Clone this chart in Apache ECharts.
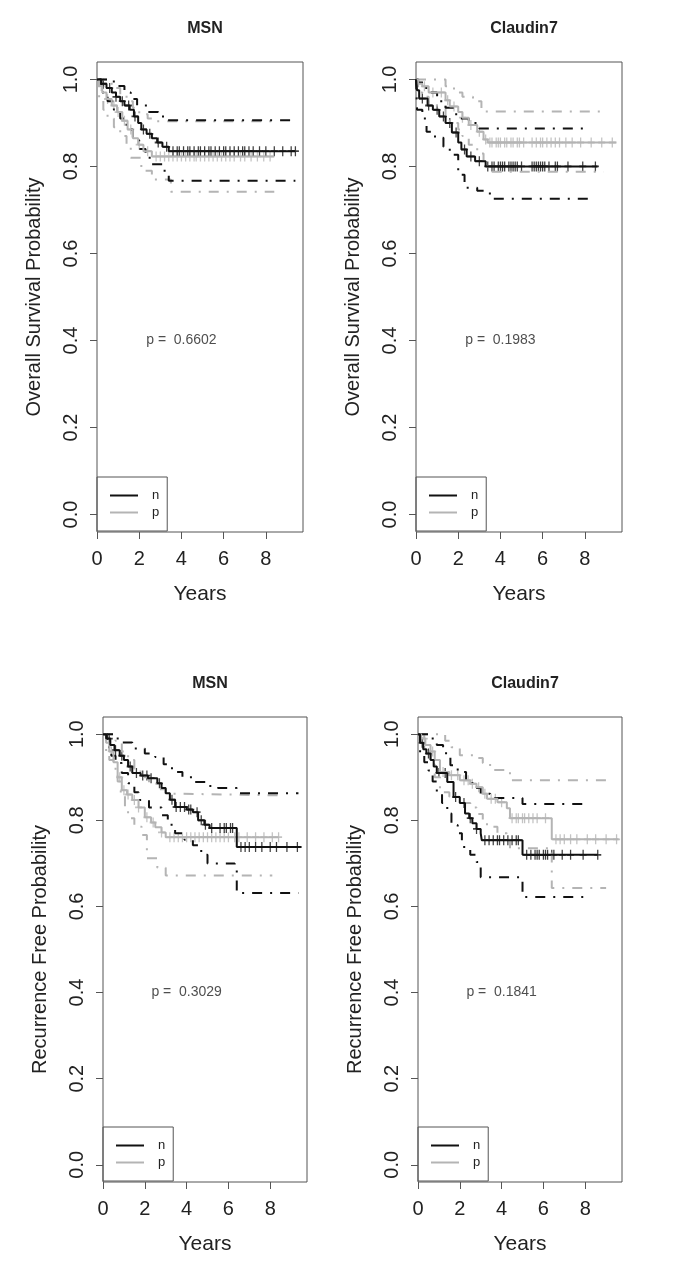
<!DOCTYPE html>
<html>
<head>
<meta charset="utf-8">
<script src="https://cdn.jsdelivr.net/npm/echarts@6/dist/echarts.min.js"></script>
<style>
  html, body { margin: 0; padding: 0; background: #fff; }
  #main { width: 685px; height: 1276px; }
</style>
</head>
<body>
<div id="main"></div>
<script>
// ---- data: Kaplan-Meier steps [years, probability] ----
const panelTitles = ['MSN', 'Claudin7', 'MSN', 'Claudin7'];
const yNames = ['Overall Survival Probability', 'Overall Survival Probability',
                'Recurrence Free Probability', 'Recurrence Free Probability'];
const pValues = ['0.6602', '0.1983', '0.3029', '0.1841'];
const groupNames = ['n', 'p'];
const xTicks = [0, 2, 4, 6, 8];
const yTicks = [0, 0.2, 0.4, 0.6, 0.8, 1.0];
const yTickLabels = ['0.0', '0.2', '0.4', '0.6', '0.8', '1.0'];

// overall survival, MSN
const osMsnN = [[0,1],[0.2,0.99],[0.45,0.98],[0.7,0.97],[0.9,0.96],[1.1,0.95],[1.3,0.94],[1.55,0.93],[1.75,0.915],[1.95,0.9],[2.1,0.885],[2.35,0.875],[2.6,0.865],[2.85,0.855],[3.1,0.845],[3.4,0.835],[9.4,0.835]];
const osMsnP = [[0,1],[0.1,0.985],[0.25,0.97],[0.45,0.955],[0.7,0.94],[0.95,0.925],[1.2,0.905],[1.45,0.885],[1.7,0.865],[1.95,0.85],[2.2,0.835],[2.6,0.823],[8.4,0.823]];
const osMsnNUp = [[0,1],[0.3,1],[0.5,0.995],[0.9,0.985],[1.3,0.97],[1.6,0.955],[1.9,0.94],[2.4,0.925],[2.9,0.915],[3.3,0.906],[9.4,0.906]];
const osMsnNLo = [[0,1],[0.2,0.97],[0.5,0.95],[0.8,0.93],[1.1,0.91],[1.4,0.885],[1.7,0.86],[2.0,0.84],[2.3,0.82],[2.6,0.805],[3.1,0.79],[3.4,0.767],[9.4,0.767]];
const osMsnPUp = [[0,1],[0.25,1],[0.5,0.99],[0.8,0.98],[1.1,0.965],[1.4,0.95],[1.7,0.935],[2.0,0.92],[2.4,0.91],[2.8,0.904],[8.4,0.904]];
const osMsnPLo = [[0,1],[0.1,0.955],[0.3,0.93],[0.5,0.91],[0.8,0.89],[1.1,0.87],[1.4,0.845],[1.6,0.82],[2.1,0.79],[2.6,0.77],[3.5,0.742],[8.4,0.742]];
const osMsnNCens = [0.3,0.6,0.9,1.2,1.5,1.8,2.2,2.5,2.9,3.3,3.6,3.8,3.9,4.1,4.3,4.4,4.6,4.8,4.9,5.1,5.3,5.4,5.6,5.8,6.0,6.1,6.3,6.5,6.7,6.9,7.0,7.2,7.4,7.7,8.0,8.4,8.8,9.2,9.4];
const osMsnPCens = [0.2,0.5,0.8,1.0,1.3,1.6,2.0,2.4,2.8,3.0,3.2,3.4,3.6,3.8,4.0,4.2,4.4,4.6,4.7,4.9,5.1,5.3,5.5,5.7,5.9,6.1,6.3,6.5,6.8,7.0,7.3,7.6,7.9,8.2];

// overall survival, Claudin7
const osClaN = [[0,1],[0.05,0.975],[0.15,0.956],[0.55,0.94],[0.8,0.93],[1.1,0.915],[1.4,0.9],[1.7,0.878],[2.0,0.855],[2.15,0.839],[2.4,0.823],[2.8,0.812],[3.3,0.8],[8.6,0.8]];
const osClaP = [[0,1],[0.1,0.99],[0.3,0.984],[0.6,0.97],[1.4,0.952],[1.6,0.938],[2.0,0.925],[2.2,0.912],[2.5,0.895],[2.9,0.88],[3.2,0.862],[3.4,0.855],[9.5,0.855]];
const osClaNUp = [[0,1],[0.1,0.993],[0.35,0.98],[0.6,0.97],[1.0,0.95],[1.4,0.935],[1.8,0.92],[2.1,0.91],[2.5,0.9],[3.0,0.887],[8.1,0.887]];
const osClaNLo = [[0,1],[0.05,0.93],[0.3,0.91],[0.5,0.88],[0.9,0.866],[1.3,0.845],[1.6,0.827],[2.0,0.781],[2.3,0.751],[2.9,0.744],[3.5,0.726],[8.5,0.726]];
const osClaPUp = [[0,1],[1.2,1],[1.4,0.984],[1.8,0.97],[2.2,0.96],[2.7,0.95],[3.1,0.931],[3.3,0.926],[8.9,0.926]];
const osClaPLo = [[0,1],[0.1,0.97],[0.3,0.96],[0.6,0.94],[1.4,0.915],[1.6,0.9],[2.0,0.885],[2.2,0.87],[2.5,0.85],[2.9,0.83],[3.2,0.8],[3.4,0.788],[8.9,0.788]];
const osClaNCens = [0.3,0.6,1.0,1.3,1.6,1.9,2.3,2.6,3.0,3.4,3.6,3.7,3.9,4.0,4.1,4.2,4.4,4.5,4.6,4.7,4.8,5.0,5.5,5.6,5.7,5.8,5.9,6.0,6.1,6.3,6.6,6.7,7.2,7.9,8.5];
const osClaPCens = [0.4,0.8,1.2,1.5,1.8,2.2,2.6,3.0,3.3,3.5,3.6,3.8,3.9,4.0,4.2,4.3,4.5,4.6,4.8,4.9,5.1,5.5,5.7,5.9,6.0,6.2,6.4,6.6,6.8,7.1,7.4,7.8,8.3,8.8,9.3];

// recurrence free, MSN
const rfsMsnN = [[0,1],[0.15,0.99],[0.35,0.975],[0.55,0.963],[0.8,0.95],[1.0,0.94],[1.2,0.925],[1.4,0.91],[1.8,0.904],[2.15,0.898],[2.6,0.886],[2.8,0.875],[3.0,0.863],[3.2,0.848],[3.45,0.831],[4.0,0.825],[4.3,0.819],[4.55,0.8],[4.85,0.79],[5.1,0.782],[6.4,0.738],[9.5,0.738]];
const rfsMsnP = [[0,1],[0.15,0.98],[0.3,0.96],[0.5,0.935],[0.7,0.9],[0.9,0.87],[1.15,0.86],[1.4,0.847],[1.7,0.83],[2.0,0.807],[2.3,0.795],[2.5,0.784],[2.8,0.772],[3.0,0.761],[8.4,0.761]];
const rfsMsnNUp = [[0,1],[0.3,1],[0.5,0.99],[0.9,0.981],[1.4,0.967],[2.0,0.955],[2.5,0.947],[2.9,0.93],[3.3,0.912],[3.8,0.9],[4.4,0.889],[5.0,0.88],[5.5,0.875],[6.4,0.863],[9.35,0.863]];
const rfsMsnNLo = [[0,1],[0.2,0.97],[0.4,0.95],[0.6,0.933],[0.9,0.91],[1.2,0.886],[1.5,0.865],[1.7,0.847],[2.2,0.83],[2.8,0.812],[3.1,0.79],[3.45,0.77],[3.9,0.755],[4.3,0.742],[4.7,0.72],[5.0,0.7],[6.3,0.69],[6.4,0.631],[9.35,0.631]];
const rfsMsnPUp = [[0,1],[0.4,1],[0.6,0.985],[0.9,0.96],[1.2,0.94],[1.5,0.92],[1.8,0.9],[2.2,0.885],[2.6,0.872],[3.0,0.862],[3.4,0.858],[8.4,0.858]];
const rfsMsnPLo = [[0,1],[0.15,0.96],[0.3,0.94],[0.5,0.92],[0.7,0.89],[0.85,0.86],[1.05,0.83],[1.2,0.805],[1.5,0.785],[1.85,0.766],[2.1,0.712],[2.6,0.69],[3.0,0.672],[8.1,0.672]];
const rfsMsnNCens = [0.3,0.6,0.9,1.3,1.6,1.9,2.1,2.3,2.7,3.3,3.5,3.7,3.9,4.1,4.2,4.5,4.7,4.9,5.2,5.6,5.8,5.9,6.1,6.2,6.6,6.8,7.0,7.3,7.6,8.0,8.3,8.8,9.3];
const rfsMsnPCens = [0.4,0.8,1.0,1.2,1.5,1.7,2.1,2.4,2.8,3.2,3.4,3.6,3.8,4.0,4.2,4.4,4.6,4.8,5.0,5.2,5.4,5.6,5.8,6.0,6.3,6.5,6.9,7.3,7.7,8.1,8.4];

// recurrence free, Claudin7
const rfsClaN = [[0,1],[0.1,0.98],[0.25,0.965],[0.4,0.955],[0.6,0.94],[0.75,0.925],[0.9,0.91],[1.4,0.889],[1.7,0.854],[2.0,0.84],[2.25,0.816],[2.45,0.805],[2.6,0.793],[2.8,0.78],[3.0,0.77],[3.05,0.754],[5.0,0.72],[8.6,0.72]];
const rfsClaP = [[0,1],[0.15,0.99],[0.35,0.975],[0.6,0.96],[0.8,0.94],[1.05,0.912],[1.5,0.905],[2.0,0.893],[2.5,0.885],[2.8,0.877],[3.1,0.862],[3.3,0.85],[3.8,0.842],[4.25,0.828],[4.4,0.805],[6.4,0.756],[9.6,0.756]];
const rfsClaNUp = [[0,1],[0.4,1],[0.6,0.99],[0.9,0.975],[1.2,0.956],[1.55,0.928],[1.9,0.912],[2.3,0.89],[2.6,0.875],[3.0,0.862],[3.45,0.852],[5.0,0.838],[8.0,0.838]];
const rfsClaNLo = [[0,1],[0.1,0.955],[0.3,0.935],[0.5,0.916],[0.7,0.89],[0.9,0.866],[1.15,0.84],[1.4,0.816],[1.6,0.789],[1.9,0.77],[2.1,0.738],[2.5,0.72],[2.8,0.703],[3.0,0.668],[5.0,0.622],[8.0,0.622]];
const rfsClaPUp = [[0,1],[1.0,1],[1.3,0.985],[1.6,0.97],[2.0,0.951],[2.8,0.945],[3.1,0.933],[3.45,0.917],[4.4,0.893],[9.2,0.893]];
const rfsClaPLo = [[0,1],[0.3,0.96],[0.6,0.93],[0.8,0.9],[1.05,0.865],[1.5,0.855],[2.0,0.84],[2.5,0.83],[2.8,0.815],[3.1,0.8],[3.3,0.785],[3.8,0.77],[4.25,0.755],[4.4,0.735],[6.4,0.643],[9.0,0.643]];
const rfsClaNCens = [0.2,0.5,1.0,1.3,1.8,2.2,2.5,2.8,3.2,3.4,3.6,3.8,3.9,4.1,4.3,4.5,4.7,4.8,5.2,5.4,5.6,5.7,5.8,6.0,6.1,6.2,6.4,6.5,6.9,7.3,7.9,8.6];
const rfsClaPCens = [0.3,0.7,1.2,1.6,1.9,2.2,2.4,2.6,2.9,3.2,3.5,3.7,4.0,4.5,4.7,4.8,5.0,5.1,5.3,5.5,5.7,6.1,6.6,6.8,7.0,7.3,7.6,8.1,8.5,9.0,9.5];

const panels = [
    { n: osMsnN, p: osMsnP, nUp: osMsnNUp, nLo: osMsnNLo, pUp: osMsnPUp, pLo: osMsnPLo, nCens: osMsnNCens, pCens: osMsnPCens },
    { n: osClaN, p: osClaP, nUp: osClaNUp, nLo: osClaNLo, pUp: osClaPUp, pLo: osClaPLo, nCens: osClaNCens, pCens: osClaPCens },
    { n: rfsMsnN, p: rfsMsnP, nUp: rfsMsnNUp, nLo: rfsMsnNLo, pUp: rfsMsnPUp, pLo: rfsMsnPLo, nCens: rfsMsnNCens, pCens: rfsMsnPCens },
    { n: rfsClaN, p: rfsClaP, nUp: rfsClaNUp, nLo: rfsClaNLo, pUp: rfsClaPUp, pLo: rfsClaPLo, nCens: rfsClaNCens, pCens: rfsClaPCens }
];

// ---- layout ----
const grids = [
    { left: 97, top: 62, width: 206, height: 470 },
    { left: 416, top: 62, width: 206, height: 470 },
    { left: 103, top: 717, width: 204, height: 465 },
    { left: 418, top: 717, width: 204, height: 465 }
];
const FONT = '"Liberation Sans", Arial, Helvetica, sans-serif';
const BLACK = '#111';
const GRAY = '#b4b4b4';
const TXT = '#222';
const FRAME = '#555';
const DOTDASH = [10, 8, 2, 8];
const PLUS = 'path://M0,4.1 H10 V5.9 H0 Z M4.1,0 H5.9 V10 H4.1 Z';

// value of the step curve at time t
function survAt(curve, t) {
    let s = curve[0][1];
    for (const [ti, si] of curve) {
        if (ti <= t) s = si;
    }
    return s;
}

function stepLine(name, data, i, color, width, dash) {
    return {
        name: name, type: 'line', xAxisIndex: i, yAxisIndex: i,
        data: data, step: 'end', showSymbol: false, symbol: 'none',
        color: color, itemStyle: { color: color },
        lineStyle: { color: color, width: width, type: dash || 'solid' },
        silent: true
    };
}

function censorSeries(name, curve, times, i, color) {
    return {
        name: name, type: 'scatter', xAxisIndex: i, yAxisIndex: i,
        data: times.map(t => [t, survAt(curve, t)]),
        symbol: PLUS, symbolSize: [7, 10],
        itemStyle: { color: color }, silent: true
    };
}

const option = {
    animation: false,
    backgroundColor: '#fff',
    textStyle: { fontFamily: FONT },
    title: [],
    legend: [],
    grid: [],
    xAxis: [],
    yAxis: [],
    series: []
};

grids.forEach((g, i) => {
    const d = panels[i];
    option.grid.push(Object.assign({ show: true, borderColor: FRAME, borderWidth: 1, backgroundColor: 'transparent' }, g));

    option.title.push({
        text: panelTitles[i],
        left: g.left + g.width / 2, top: g.top - 46, textAlign: 'center',
        textStyle: { fontFamily: FONT, fontSize: 16, fontWeight: 'bold', color: TXT }
    });

    option.xAxis.push({
        gridIndex: i, type: 'value', min: 0, max: 9.76,
        name: 'Years', nameLocation: 'middle', nameGap: 52,
        nameTextStyle: { fontFamily: FONT, fontSize: 21, color: TXT },
        axisLine: { show: false, onZero: false }, splitLine: { show: false },
        axisTick: { show: true, length: 7, lineStyle: { color: FRAME }, customValues: xTicks },
        axisLabel: { margin: 17, fontSize: 20, color: TXT, fontFamily: FONT, customValues: xTicks }
    });

    option.yAxis.push({
        gridIndex: i, type: 'value', min: -0.04, max: 1.04,
        name: yNames[i], nameLocation: 'middle', nameGap: 53,
        nameTextStyle: { fontFamily: FONT, fontSize: 20, color: TXT },
        axisLine: { show: false, onZero: false }, splitLine: { show: false },
        axisTick: { show: true, length: 7, lineStyle: { color: FRAME }, customValues: yTicks },
        axisLabel: {
            rotate: 90, margin: 16, fontSize: 20, color: TXT, fontFamily: FONT,
            customValues: yTicks,
            formatter: v => yTickLabels[yTicks.findIndex(t => Math.abs(t - v) < 1e-6)]
        }
    });

    option.legend.push({
        data: groupNames, orient: 'vertical',
        left: g.left, top: g.top + g.height - 55,
        icon: 'rect', itemWidth: 28, itemHeight: 2, itemGap: 2,
        padding: [11, 8, 11, 13],
        borderColor: FRAME, borderWidth: 1, borderRadius: 0,
        selectedMode: false,
        textStyle: { fontFamily: FONT, fontSize: 13, color: TXT, lineHeight: 15, padding: [0, 0, 0, 9] }
    });

    // confidence bands
    option.series.push(stepLine('p-up', d.pUp, i, GRAY, 2, DOTDASH));
    option.series.push(stepLine('p-lo', d.pLo, i, GRAY, 2, DOTDASH));
    option.series.push(stepLine('n-up', d.nUp, i, BLACK, 2, DOTDASH));
    option.series.push(stepLine('n-lo', d.nLo, i, BLACK, 2, DOTDASH));
    // survival curves and censor marks
    option.series.push(stepLine('p', d.p, i, GRAY, 2));
    option.series.push(censorSeries('p-cens', d.p, d.pCens, i, GRAY));
    option.series.push(stepLine('n', d.n, i, BLACK, 2));
    option.series.push(censorSeries('n-cens', d.n, d.nCens, i, BLACK));

    option.series.push({
        name: 'pval', type: 'scatter', xAxisIndex: i, yAxisIndex: i,
        data: [[4, 0.4]], symbolSize: 0, silent: true,
        label: {
            show: true, position: 'inside', formatter: 'p =  ' + pValues[i],
            fontFamily: FONT, fontSize: 14, color: TXT
        }
    });
});

const chart = echarts.init(document.getElementById('main'), null, { renderer: 'canvas' });
chart.setOption(option);
</script>
</body>
</html>
